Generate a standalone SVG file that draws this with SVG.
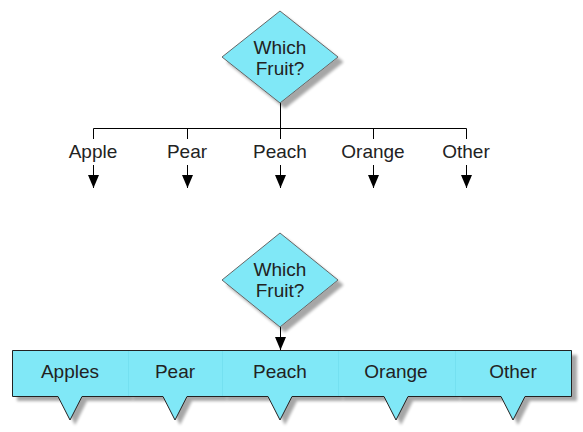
<svg xmlns="http://www.w3.org/2000/svg" width="583" height="432" viewBox="0 0 583 432">
<defs>
<filter id="sh" x="-20%" y="-20%" width="150%" height="160%">
<feGaussianBlur in="SourceAlpha" stdDeviation="1.5"/>
<feOffset dx="5" dy="5" result="o"/>
<feComponentTransfer><feFuncA type="linear" slope="0.35"/></feComponentTransfer>
<feMerge><feMergeNode/><feMergeNode in="SourceGraphic"/></feMerge>
</filter>
<marker id="ah" viewBox="0 0 13 11" refX="13" refY="5.5" markerWidth="13" markerHeight="11" markerUnits="userSpaceOnUse" orient="auto">
<path d="M0,0 L13,5.5 L0,11 Z" fill="#000"/>
</marker>
<style>
.dia{fill:#80e8f7;stroke:#666;stroke-width:1}
.fill{fill:#80e8f7;stroke:none}
.edge{fill:none;stroke:#222;stroke-width:1}
.sep{fill:none;stroke:#74e0f0;stroke-width:1}
.t{font-family:"Liberation Sans",Arial,sans-serif;font-size:19px;fill:#222;text-anchor:middle}
.ln{fill:none;stroke:#000;stroke-width:1}
</style>
</defs>
<rect width="583" height="432" fill="#fff"/>

<g id="connectors">
<path class="ln" d="M280.5,103 V128.5 M93.5,128.5 H466.5 M93.5,128.5 V139 M187.5,128.5 V139 M280.5,128.5 V139 M373.5,128.5 V139 M466.5,128.5 V139"/>
<path class="ln" d="M93.5,165 V188" marker-end="url(#ah)"/>
<path class="ln" d="M187.5,165 V188" marker-end="url(#ah)"/>
<path class="ln" d="M280.5,165 V188" marker-end="url(#ah)"/>
<path class="ln" d="M373.5,165 V188" marker-end="url(#ah)"/>
<path class="ln" d="M466.5,165 V188" marker-end="url(#ah)"/>
<path class="ln" d="M280.5,327 V350" marker-end="url(#ah)"/>
</g>

<g id="decision1">
<path class="dia" filter="url(#sh)" d="M280,11 L338,57 L280,103 L222,57 Z"/>
<text class="t" x="280" y="54">Which</text>
<text class="t" x="280" y="75">Fruit?</text>
</g>

<g id="label-apple"><text class="t" x="93" y="158">Apple</text></g>
<g id="label-pear"><text class="t" x="187" y="158">Pear</text></g>
<g id="label-peach"><text class="t" x="280" y="158">Peach</text></g>
<g id="label-orange"><text class="t" x="373" y="158">Orange</text></g>
<g id="label-other"><text class="t" x="466" y="158">Other</text></g>

<g id="decision2">
<path class="dia" filter="url(#sh)" d="M280,233 L338,280 L280,327 L222,280 Z"/>
<text class="t" x="280" y="276">Which</text>
<text class="t" x="280" y="297">Fruit?</text>
</g>

<g id="callout-apples">
<path class="fill" filter="url(#sh)" d="M12,350 H128 V396 H82 L70,420 L58,396 H12 Z"/>
<path class="edge" d="M128,350.5 H12.5 V396.5 H58 M82,396.5 H128"/>
<path class="edge" stroke="#444" d="M58,396.5 L70,420 L82,396.5"/>
<text class="t" x="70" y="378">Apples</text>
</g>
<g id="callout-pear">
<path class="fill" filter="url(#sh)" d="M128,350 H222 V396 H187 L175,420 L163,396 H128 Z"/>
<path class="edge" d="M128,350.5 H222 M128,396.5 H163 M187,396.5 H222"/>
<path class="edge" d="M163,396.5 L175,420 L187,396.5"/>
<path class="sep" d="M128.5,351 V396"/>
<text class="t" x="175" y="378">Pear</text>
</g>
<g id="callout-peach">
<path class="fill" filter="url(#sh)" d="M222,350 H338 V396 H292 L280,420 L268,396 H222 Z"/>
<path class="edge" d="M222,350.5 H338 M222,396.5 H268 M292,396.5 H338"/>
<path class="edge" d="M268,396.5 L280,420 L292,396.5"/>
<path class="sep" d="M222.5,351 V396"/>
<text class="t" x="280" y="378">Peach</text>
</g>
<g id="callout-orange">
<path class="fill" filter="url(#sh)" d="M338,350 H455 V396 H408 L396,420 L384,396 H338 Z"/>
<path class="edge" d="M338,350.5 H455 M338,396.5 H384 M408,396.5 H455"/>
<path class="edge" d="M384,396.5 L396,420 L408,396.5"/>
<path class="sep" d="M338.5,351 V396"/>
<text class="t" x="396" y="378">Orange</text>
</g>
<g id="callout-other">
<path class="fill" filter="url(#sh)" d="M455,350 H572 V396 H525 L513,420 L501,396 H455 Z"/>
<path class="edge" d="M455,350.5 H571.5 V396.5 H525 M501,396.5 H455"/>
<path class="edge" d="M501,396.5 L513,420 L525,396.5"/>
<path class="sep" d="M455.5,351 V396"/>
<text class="t" x="513" y="378">Other</text>
</g>
</svg>
